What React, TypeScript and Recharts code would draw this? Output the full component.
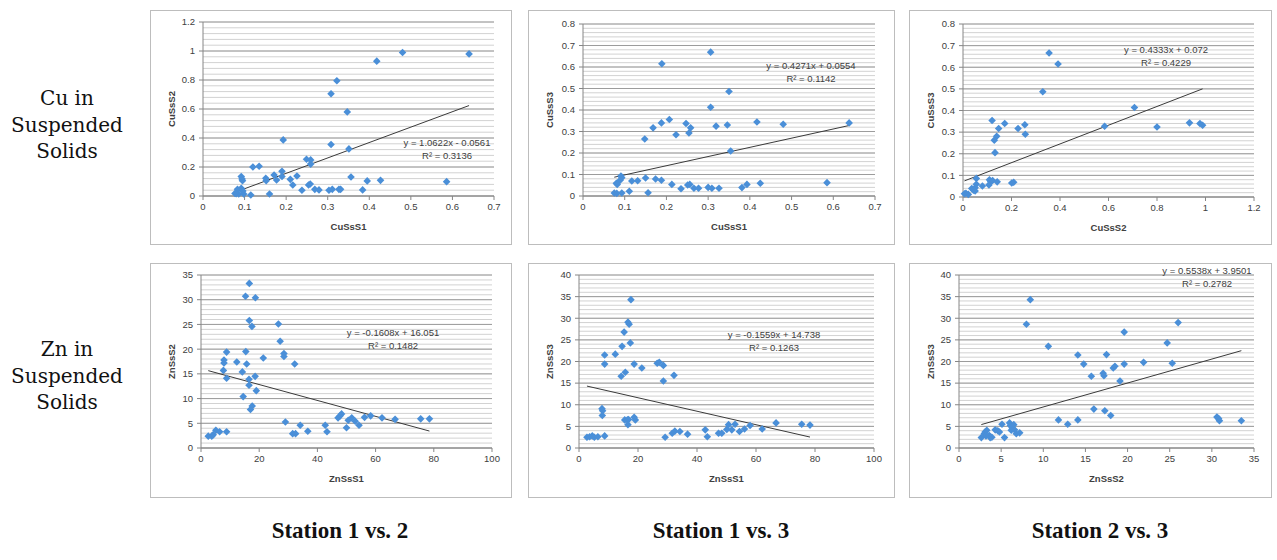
import React from 'react';
import {
  ScatterChart,
  Scatter,
  XAxis,
  YAxis,
  CartesianGrid,
  ReferenceLine,
} from 'recharts';

// Cu in suspended solids, [x, y] pairs
const cuS1S2: [number, number][] = [
  [0.64, 0.98], [0.48, 0.99], [0.418, 0.93], [0.322, 0.795], [0.308, 0.705], [0.347, 0.58],
  [0.308, 0.355], [0.351, 0.325], [0.193, 0.387], [0.249, 0.253], [0.259, 0.249], [0.259, 0.22],
  [0.12, 0.2], [0.135, 0.205], [0.151, 0.122], [0.152, 0.106], [0.171, 0.145], [0.177, 0.11],
  [0.19, 0.17], [0.19, 0.134], [0.21, 0.115], [0.226, 0.138], [0.216, 0.076], [0.238, 0.04],
  [0.254, 0.076], [0.258, 0.083], [0.269, 0.046], [0.279, 0.042], [0.303, 0.04], [0.311, 0.046],
  [0.327, 0.046], [0.331, 0.046], [0.356, 0.131], [0.384, 0.042], [0.395, 0.104], [0.427, 0.108],
  [0.586, 0.099], [0.092, 0.134], [0.094, 0.118], [0.095, 0.106], [0.092, 0.053], [0.083, 0.046],
  [0.08, 0.016], [0.086, 0.014], [0.098, 0.014], [0.115, 0.007], [0.16, 0.014], [0.096, 0.035],
  [0.077, 0.018],
];

const cuS1S3: [number, number][] = [
  [0.638, 0.34], [0.48, 0.334], [0.417, 0.344], [0.306, 0.669], [0.306, 0.413], [0.319, 0.325],
  [0.346, 0.33], [0.35, 0.486], [0.354, 0.209], [0.189, 0.615], [0.207, 0.356], [0.188, 0.34],
  [0.168, 0.317], [0.148, 0.265], [0.223, 0.285], [0.247, 0.337], [0.258, 0.317], [0.254, 0.293],
  [0.15, 0.084], [0.174, 0.079], [0.188, 0.073], [0.117, 0.07], [0.131, 0.071], [0.213, 0.054],
  [0.235, 0.034], [0.251, 0.051], [0.256, 0.054], [0.266, 0.036], [0.277, 0.036], [0.3, 0.04],
  [0.309, 0.036], [0.326, 0.036], [0.381, 0.039], [0.393, 0.054], [0.425, 0.059], [0.585, 0.062],
  [0.091, 0.093], [0.093, 0.085], [0.089, 0.073], [0.08, 0.059], [0.082, 0.054], [0.075, 0.014],
  [0.081, 0.012], [0.093, 0.014], [0.111, 0.022], [0.156, 0.015],
];

const cuS2S3: [number, number][] = [
  [0.355, 0.666], [0.392, 0.615], [0.329, 0.487], [0.707, 0.414], [0.584, 0.327], [0.8, 0.324],
  [0.934, 0.343], [0.977, 0.34], [0.988, 0.332], [0.12, 0.354], [0.172, 0.34], [0.147, 0.317],
  [0.227, 0.317], [0.255, 0.334], [0.257, 0.29], [0.139, 0.281], [0.129, 0.263], [0.132, 0.205],
  [0.055, 0.086], [0.109, 0.08], [0.114, 0.071], [0.122, 0.076], [0.141, 0.07], [0.107, 0.056],
  [0.08, 0.051], [0.055, 0.059], [0.05, 0.043], [0.043, 0.032], [0.05, 0.028], [0.201, 0.065],
  [0.209, 0.068], [0.012, 0.017], [0.022, 0.012], [0.006, 0.015], [0.036, 0.039],
];

// Zn in suspended solids
const znS1S2: [number, number][] = [
  [16.6, 33.3], [15.3, 30.7], [18.7, 30.4], [16.6, 25.8], [17.5, 24.6], [26.6, 25.1],
  [27.2, 21.6], [28.5, 19.1], [28.5, 18.5], [21.4, 18.2], [12.3, 17.4], [8.8, 19.4],
  [7.9, 17.8], [7.9, 17.2], [7.7, 15.7], [8.8, 14.1], [15.4, 19.5], [15.7, 17.0],
  [14.2, 15.4], [16.5, 13.9], [16.5, 12.7], [18.6, 14.5], [19.0, 11.6], [14.5, 10.4],
  [17.6, 8.5], [17.0, 7.8], [32.2, 17.0], [29.0, 5.25], [34.1, 4.6], [31.5, 2.9],
  [32.5, 2.9], [36.7, 3.4], [42.7, 4.6], [43.3, 3.3], [47.1, 6.1], [47.8, 6.5],
  [48.3, 6.9], [50.0, 4.1], [50.6, 5.6], [51.8, 6.1], [53.0, 5.4], [54.3, 4.6],
  [56.2, 6.2], [58.3, 6.5], [62.2, 6.1], [66.7, 5.8], [75.5, 5.9], [78.5, 5.9],
  [2.5, 2.4], [3.7, 2.4], [4.2, 2.7], [5.1, 3.6], [6.4, 3.3], [8.8, 3.3],
];

const znS1S3: [number, number][] = [
  [17.6, 34.3], [16.6, 29.1], [17.0, 28.6], [15.3, 26.8], [17.4, 24.3], [14.6, 23.5],
  [8.7, 21.5], [12.3, 21.7], [8.7, 19.4], [15.7, 17.5], [14.3, 16.6], [18.7, 19.4],
  [21.3, 18.5], [26.5, 19.6], [27.2, 19.8], [28.6, 19.1], [28.6, 15.5], [32.2, 16.8],
  [7.8, 9.1], [8.0, 8.6], [7.9, 7.5], [15.5, 6.5], [16.4, 6.5], [16.8, 6.6],
  [16.6, 5.4], [18.7, 7.1], [19.1, 6.5], [8.7, 2.8], [2.7, 2.5], [3.6, 2.6],
  [4.5, 2.8], [5.2, 2.5], [6.4, 2.6], [29.2, 2.5], [31.6, 3.4], [32.5, 3.9],
  [34.2, 3.8], [36.8, 3.2], [42.8, 4.2], [43.5, 2.6], [47.3, 3.4], [48.4, 3.4],
  [50.1, 4.3], [50.7, 5.4], [51.8, 4.2], [52.9, 5.5], [54.4, 3.8], [56.1, 4.4],
  [58.0, 5.2], [62.1, 4.4], [66.8, 5.8], [75.5, 5.5], [78.3, 5.3],
];

const znS2S3: [number, number][] = [
  [8.46, 34.3], [8.0, 28.6], [10.6, 23.5], [14.1, 21.5], [14.8, 19.4], [15.7, 16.6],
  [17.1, 17.3], [17.2, 16.7], [17.5, 21.6], [18.3, 18.5], [18.5, 18.9], [19.1, 15.5],
  [19.6, 19.4], [19.6, 26.8], [21.9, 19.8], [24.7, 24.3], [25.3, 19.6], [26.0, 29.0],
  [16.0, 9.0], [17.3, 8.6], [18.0, 7.5], [11.8, 6.5], [14.1, 6.5], [12.9, 5.5],
  [30.6, 7.15], [30.8, 6.8], [30.9, 6.3], [33.5, 6.3], [2.65, 2.4], [3.0, 3.3],
  [3.1, 3.7], [3.3, 4.1], [3.2, 2.8], [3.6, 2.9], [3.7, 2.4], [3.9, 2.5],
  [5.1, 5.5], [4.3, 4.2], [4.6, 4.0], [4.8, 3.7], [5.4, 2.4], [6.0, 5.8],
  [6.1, 5.2], [6.3, 4.7], [6.2, 4.1], [6.5, 5.4], [6.6, 4.2], [6.8, 3.3], [7.2, 3.5],
];

// tick labels
const cuS1Ticks = [0, 0.1, 0.2, 0.3, 0.4, 0.5, 0.6, 0.7];
const cuS2XTicks = [0, 0.2, 0.4, 0.6, 0.8, 1, 1.2];
const cuS2YTicks = [0, 0.2, 0.4, 0.6, 0.8, 1, 1.2];
const cuS3Ticks = [0, 0.1, 0.2, 0.3, 0.4, 0.5, 0.6, 0.7, 0.8];
const znS1Ticks = [0, 20, 40, 60, 80, 100];
const znS2XTicks = [0, 5, 10, 15, 20, 25, 30, 35];
const znS2YTicks = [0, 5, 10, 15, 20, 25, 30, 35];
const znS3Ticks = [0, 5, 10, 15, 20, 25, 30, 35, 40];

// linear trendlines: [slope, intercept, R²]
const cuTrend12 = [1.0622, -0.0561, 0.3136];
const cuTrend13 = [0.4271, 0.0554, 0.1142];
const cuTrend23 = [0.4333, 0.072, 0.4229];
const znTrend12 = [-0.1608, 16.051, 0.1482];
const znTrend13 = [-0.1559, 14.738, 0.1263];
const znTrend23 = [0.5538, 3.9501, 0.2782];

const BLUE = '#4a8fd8';
const AXIS = '#868686';
const TEXT = '#404040';
const SANS = '"Liberation Sans", Arial, sans-serif';

const minorValues = (max: number, step: number) => {
  const out: number[] = [];
  for (let i = 0; i * step <= max + 1e-9; i++) out.push(Number((i * step).toFixed(6)));
  return out;
};

const eqText = (t: number[]) => {
  const [a, b] = t;
  const sign = b < 0 ? '-' : '+';
  return `y = ${a}x ${sign} ${Math.abs(b)}`;
};

const Diamond = (props: any) => {
  const { cx, cy } = props;
  const r = 3.8;
  return <path d={`M${cx},${cy - r}L${cx + r},${cy}L${cx},${cy + r}L${cx - r},${cy}Z`} fill={BLUE} />;
};

type PanelProps = {
  left: number;
  top: number;
  width: number;
  height: number;
  plotLeft: number;
  plotRight: number;
  plotTop: number;
  plotBottom: number;
  data: [number, number][];
  xTicks: number[];
  yTicks: number[];
  minorStep: number;
  xLabel: string;
  yLabel: string;
  trend: number[];
  eqX: number;
  eqY: number;
};

const Panel = (p: PanelProps) => {
  const pts = p.data.map(([x, y]) => ({ x, y }));
  const xs = p.data.map((d) => d[0]);
  const x1 = Math.min(...xs);
  const x2 = Math.max(...xs);
  const [a, b, r2] = p.trend;
  const xMax = p.xTicks[p.xTicks.length - 1];
  const yMax = p.yTicks[p.yTicks.length - 1];
  const xAxisHeight = 40;
  const tickStyle = { fontSize: 9.5, fill: TEXT, fontFamily: SANS };

  return (
    <div style={{ position: 'absolute', left: p.left, top: p.top, width: p.width, height: p.height }}>
      <ScatterChart
        width={p.width}
        height={p.height}
        margin={{ top: p.plotTop, right: p.plotRight, bottom: p.plotBottom - xAxisHeight, left: 0 }}
        style={{ fontFamily: SANS }}
      >
        <CartesianGrid vertical={false} horizontalValues={minorValues(yMax, p.minorStep)} stroke="#d2d2d2" />
        <CartesianGrid vertical={false} horizontalValues={p.yTicks} stroke="#9c9c9c" />
        <XAxis
          type="number"
          dataKey="x"
          domain={[0, xMax]}
          ticks={p.xTicks}
          interval={0}
          height={xAxisHeight}
          tickSize={4}
          tickMargin={3}
          stroke={AXIS}
          tick={tickStyle}
          label={{
            value: p.xLabel,
            position: 'insideBottom',
            offset: 6,
            style: { fontSize: 9.5, fontWeight: 'bold', fill: TEXT, fontFamily: SANS },
          }}
        />
        <YAxis
          type="number"
          dataKey="y"
          domain={[0, yMax]}
          ticks={p.yTicks}
          interval={0}
          width={p.plotLeft}
          tickSize={4}
          tickMargin={4}
          stroke={AXIS}
          tick={tickStyle}
          label={{
            value: p.yLabel,
            angle: -90,
            position: 'insideLeft',
            offset: 22,
            style: { fontSize: 9.5, fontWeight: 'bold', fill: TEXT, fontFamily: SANS, textAnchor: 'middle' },
          }}
        />
        <ReferenceLine
          segment={[
            { x: x1, y: a * x1 + b },
            { x: x2, y: a * x2 + b },
          ]}
          stroke="#3a3a3a"
          strokeWidth={1}
        />
        <Scatter data={pts} shape={Diamond} isAnimationActive={false} />
      </ScatterChart>
      <div
        style={{
          position: 'absolute',
          left: p.eqX - 100,
          top: p.eqY - 7,
          width: 200,
          textAlign: 'center',
          fontFamily: SANS,
          fontSize: 9.5,
          lineHeight: '12.5px',
          color: TEXT,
        }}
      >
        <div>{eqText(p.trend)}</div>
        <div>R² = {r2}</div>
      </div>
      <div
        style={{
          position: 'absolute',
          left: 0,
          top: 0,
          width: p.width,
          height: p.height,
          boxSizing: 'border-box',
          border: '1px solid #bdbdbd',
          pointerEvents: 'none',
        }}
      />
    </div>
  );
};

const rowLabel = (top: number, first: string) => (
  <div
    style={{
      position: 'absolute',
      left: 0,
      top,
      width: 134,
      textAlign: 'center',
      fontFamily: '"DejaVu Serif", serif',
      fontSize: 20,
      lineHeight: '26.5px',
      color: '#111',
    }}
  >
    <div>{first}</div>
    <div>Suspended</div>
    <div>Solids</div>
  </div>
);

const colLabel = (cx: number, text: string) => (
  <div
    key={text}
    style={{
      position: 'absolute',
      left: cx - 150,
      top: 518,
      width: 300,
      textAlign: 'center',
      fontFamily: '"Liberation Serif", serif',
      fontWeight: 'bold',
      fontSize: 23,
      lineHeight: '26px',
      color: '#111',
    }}
  >
    {text}
  </div>
);

export default function App() {
  return (
    <div style={{ position: 'absolute', left: 0, top: 0, width: 1277, height: 560, background: '#fff', overflow: 'hidden' }}>
      {rowLabel(85, 'Cu in')}
      {rowLabel(336, 'Zn in')}

      <Panel
        left={150} top={10} width={362} height={235}
        plotLeft={53} plotRight={18} plotTop={12} plotBottom={49}
        data={cuS1S2} xTicks={cuS1Ticks} yTicks={cuS2YTicks} minorStep={0.04}
        xLabel="CuSsS1" yLabel="CuSsS2" trend={cuTrend12} eqX={297} eqY={134}
      />
      <Panel
        left={528} top={10} width={367} height={235}
        plotLeft={55} plotRight={20} plotTop={14} plotBottom={49}
        data={cuS1S3} xTicks={cuS1Ticks} yTicks={cuS3Ticks} minorStep={0.02}
        xLabel="CuSsS1" yLabel="CuSsS3" trend={cuTrend13} eqX={283} eqY={57}
      />
      <Panel
        left={909} top={10} width={363} height={235}
        plotLeft={54} plotRight={18} plotTop={14} plotBottom={48}
        data={cuS2S3} xTicks={cuS2XTicks} yTicks={cuS3Ticks} minorStep={0.02}
        xLabel="CuSsS2" yLabel="CuSsS3" trend={cuTrend23} eqX={257} eqY={41}
      />
      <Panel
        left={150} top={263} width={362} height={235}
        plotLeft={51} plotRight={20} plotTop={12} plotBottom={50}
        data={znS1S2} xTicks={znS1Ticks} yTicks={znS2YTicks} minorStep={1}
        xLabel="ZnSsS1" yLabel="ZnSsS2" trend={znTrend12} eqX={243} eqY={71}
      />
      <Panel
        left={528} top={263} width={367} height={235}
        plotLeft={51} plotRight={21} plotTop={12} plotBottom={50}
        data={znS1S3} xTicks={znS1Ticks} yTicks={znS3Ticks} minorStep={1}
        xLabel="ZnSsS1" yLabel="ZnSsS3" trend={znTrend13} eqX={246} eqY={73}
      />
      <Panel
        left={909} top={263} width={363} height={235}
        plotLeft={50} plotRight={18} plotTop={12} plotBottom={50}
        data={znS2S3} xTicks={znS2XTicks} yTicks={znS3Ticks} minorStep={1}
        xLabel="ZnSsS2" yLabel="ZnSsS3" trend={znTrend23} eqX={298} eqY={9}
      />

      {colLabel(340, 'Station 1 vs. 2')}
      {colLabel(721, 'Station 1 vs. 3')}
      {colLabel(1100, 'Station 2 vs. 3')}
    </div>
  );
}
